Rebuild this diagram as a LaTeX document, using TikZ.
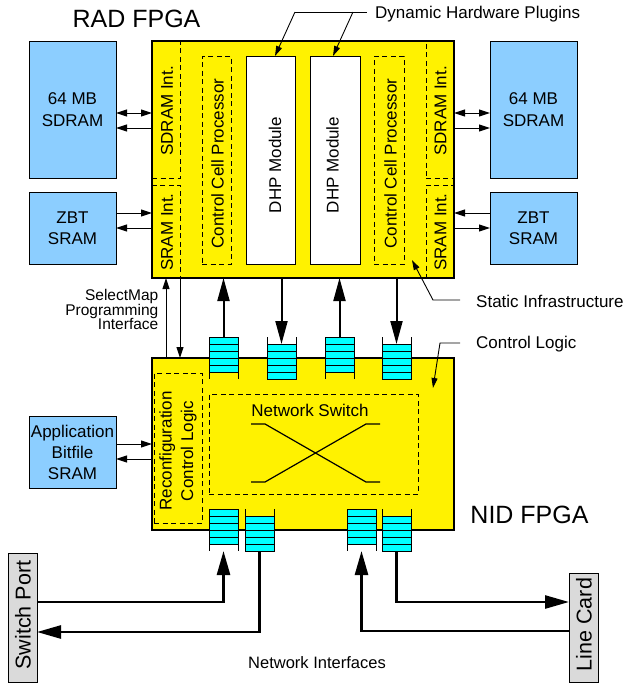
\documentclass[tikz,border=0pt]{standalone}
\usepackage{fontspec}
\setmainfont{Liberation Sans}
\usetikzlibrary{arrows.meta,calc}
\definecolor{memblue}{RGB}{140,206,255}
\definecolor{boxgray}{RGB}{218,218,218}
\definecolor{fifocyan}{RGB}{0,255,255}
\newcommand\fs[2]{\fontsize{#1}{#2}\selectfont}
% [opts]{x1}{y1}{x2}{y2}{name}{text}
\newcommand\rbox[7][]{\node[base,minimum width={(#4)-(#2)},minimum height={(#5)-(#3)},#1] (#6) at (#2,#3) {#7};}
% FIFO with cyan at top, open end at bottom
\newcommand\fifoA[3]{%
  \node[fifo] (#1) at (#2,#3) {};
  \foreach \k in {7,14,21,28} \draw[fifoline] (#2,#3+\k) -- (#2+29,#3+\k);
  \draw[fifoline] (#2,#3) -- (#2,#3+42) (#2+29,#3) -- (#2+29,#3+42);
  \coordinate (#1-open) at (#2+14.5,#3+42);
}
% FIFO with open end at top, cyan below
\newcommand\fifoB[3]{%
  \node[fifo] (#1) at (#2,#3+7) {};
  \foreach \k in {14,21,28,35} \draw[fifoline] (#2,#3+\k) -- (#2+29,#3+\k);
  \draw[fifoline] (#2,#3) -- (#2,#3+42) (#2+29,#3) -- (#2+29,#3+42);
  \coordinate (#1-open) at (#2+14.5,#3);
}
\begin{document}
\begin{tikzpicture}[x=1pt,y=-1pt,line join=miter,
  base/.style={inner sep=0,outer sep=0,anchor=north west,font=\fs{17}{21.5},align=center},
  fpga/.style={draw,fill=yellow,line width=1.5pt},
  dashedbox/.style={draw,dash pattern=on 5pt off 3.5pt,line width=0.9pt},
  mem/.style={draw,fill=memblue,line width=1pt},
  grayb/.style={draw,fill=boxgray,line width=1pt},
  fifo/.style={draw,fill=fifocyan,line width=1pt,minimum width=29pt,minimum height=35pt,inner sep=0,outer sep=0,anchor=north west},
  fifoline/.style={line width=1pt},
  rot/.style={rotate=90,font=\fs{17}{21.5},inner sep=0,align=center},
  lbl/.style={font=\fs{17}{20},inner sep=0},
  small/.style={line width=1pt,-{Triangle[length=11pt,width=7pt]}},
  smallboth/.style={line width=1pt,{Triangle[length=11pt,width=7pt]}-{Triangle[length=11pt,width=7pt]}},
  big/.style={line width=2pt,-{Triangle[length=23pt,width=12pt]}},
  bigb/.style={line width=2.6pt,-{Triangle[length=24pt,width=13pt]}},
  leader/.style={line width=0.9pt,-{Triangle[length=10pt,width=6pt]}}]
\useasboundingbox (0,0) rectangle (625,686);

% ---------- RAD FPGA ----------
\rbox[fpga]{152}{41}{454}{278}{rad}{}
\rbox[dashedbox]{152}{41}{180}{178}{sdiL}{}
\rbox[dashedbox]{152}{185}{180}{278}{sriL}{}
\rbox[dashedbox]{426}{41}{454}{178}{sdiR}{}
\rbox[dashedbox]{426}{185}{454}{278}{sriR}{}
\rbox[dashedbox]{202}{56}{231}{264}{ccpL}{}
\rbox[dashedbox]{374}{56}{404}{264}{ccpR}{}
\rbox[draw,fill=white,line width=1pt]{246}{56}{295}{264}{dhpL}{}
\rbox[draw,fill=white,line width=1pt]{310}{56}{360}{264}{dhpR}{}
\draw[line width=1.5pt] (rad.north west) rectangle (rad.south east);

\node[rot] (sdiLt) at (167,111) {SDRAM Int.};
\node[rot] (sriLt) at (167,232) {SRAM Int.};
\node[rot] (sdiRt) at (440.5,111) {SDRAM Int.};
\node[rot] (sriRt) at (440.5,232) {SRAM Int.};
\node[rot] (ccpLt) at (217.5,163.5) {Control Cell Processor};
\node[rot] (ccpRt) at (390.5,163.5) {Control Cell Processor};
\node[rot] (dhpLt) at (275,165) {DHP Module};
\node[rot] (dhpRt) at (332.5,165) {DHP Module};

\node[lbl,font=\fs{25}{30}] (radt) at (136.5,18.5) {RAD FPGA};

% ---------- memories ----------
\rbox[mem]{29}{41}{116}{178}{sdramL}{64 MB\\SDRAM}
\rbox[mem]{29}{192}{116}{264}{zbtL}{ZBT\\SRAM}
\rbox[mem]{490}{41}{577}{178}{sdramR}{64 MB\\SDRAM}
\rbox[mem]{490}{192}{577}{264}{zbtR}{ZBT\\SRAM}
\rbox[mem,font=\fs{17}{21}]{29}{416}{116}{488}{app}{Application\\Bitfile\\SRAM}

\draw[smallboth] (sdramL.east |- 0,113) -- (rad.west |- 0,113);
\draw[small] (rad.west |- 0,128) -- (sdramL.east |- 0,128);
\draw[smallboth] (rad.east |- 0,113) -- (sdramR.west |- 0,113);
\draw[small] (rad.east |- 0,128) -- (sdramR.west |- 0,128);
\draw[small] (zbtL.east |- 0,213) -- (rad.west |- 0,213);
\draw[small] (rad.west |- 0,228) -- (zbtL.east |- 0,228);
\draw[small] (zbtR.west |- 0,213) -- (rad.east |- 0,213);
\draw[small] (rad.east |- 0,228) -- (zbtR.west |- 0,228);

% ---------- NID FPGA ----------
\rbox[fpga]{152}{358}{454}{530}{nid}{}
\rbox[dashedbox]{154}{373}{202}{523}{rcl}{}
\rbox[dashedbox]{209}{394}{418}{494}{nsw}{}
\node[rot] (rclt) at (178,451) {Reconfiguration\\Control Logic};
\node[lbl] (nswt) at (310,410) {Network Switch};
\draw[line width=1.2pt] (251,424) -- (265,424) -- (366,482) -- (380,482);
\draw[line width=1.2pt] (251,482) -- (265,482) -- (366,424) -- (380,424);
\node[lbl,font=\fs{25}{30}] (nidt) at (529.5,514.5) {NID FPGA};

\draw[small] (app.east |- 0,444) -- (nid.west |- 0,444);
\draw[small] (nid.west |- 0,459) -- (app.east |- 0,459);

% SelectMap
\draw[small] (sriL.south |- nid.north) -- (sriL.south);
\draw[small] (sriL.south east) -- (sriL.south east |- nid.north);
\node[lbl,align=right,font=\fs{15.5}{14.5},anchor=east] (smt) at (158.5,309.5) {SelectMap\\Programming\\Interface};

% ---------- FIFOs ----------
\fifoA{f1}{209}{337}
\fifoB{f2}{267}{337}
\fifoA{f3}{325}{337}
\fifoB{f4}{382}{337}
\fifoA{fa}{209}{509}
\fifoB{fb}{245}{509}
\fifoA{fc}{347}{509}
\fifoB{fd}{382}{509}

\draw[big] (f1.north) -- (f1.north |- rad.south);
\draw[big] (f2.north |- rad.south) -- (f2.north);
\draw[big] (f3.north) -- (f3.north |- rad.south);
\draw[big] (f4.north |- rad.south) -- (f4.north);

% ---------- network interfaces ----------
\rbox[grayb]{8}{553}{37}{682}{sp}{}
\rbox[grayb]{569}{573}{598}{682}{lc}{}
\node[rot,font=\fs{21.5}{25}] (spt) at (23,615) {Switch Port};
\node[rot,font=\fs{21.5}{25}] (lct) at (584,624.5) {Line Card};

\draw[bigb] (sp.east |- 0,602) -| (fa-open);
\draw[bigb] (fb.south) |- (sp.east |- 0,632);
\draw[bigb] (fd.south) |- (lc.west |- 0,602);
\draw[bigb] (lc.west |- 0,631) -| (fc-open);
\node[lbl,font=\fs{16.5}{20}] (nit) at (317,662.5) {Network Interfaces};

% ---------- callouts ----------
\node[lbl,anchor=west] (dhpt) at (375,14) {Dynamic Hardware Plugins};
\coordinate (dj1) at (295,12);
\coordinate (dj2) at (353,12);
\coordinate (dje) at (367,12);
\draw[line width=0.9pt] (dj1) -- (dje);
\draw[leader] (dj1) -- ($(dhpL.north)+(4.5,0)$);
\draw[leader] (dj2) -- ($(dhpR.north)+(-2,0)$);

\node[lbl,anchor=west] (sit) at (476,301.5) {Static Infrastructure};
\coordinate (se) at (460,300);
\coordinate (sj) at (433,300);
\coordinate (stip) at (412,260);
\draw[leader] (se) -- (sj) -- (stip);

\node[lbl,anchor=west] (clt) at (476,344.5) {Control Logic};
\coordinate (ce) at (460,343);
\coordinate (cj) at (440,343);
\coordinate (ctip) at (433,388);
\draw[leader] (ce) -- (cj) -- (ctip);
\end{tikzpicture}
\end{document}
